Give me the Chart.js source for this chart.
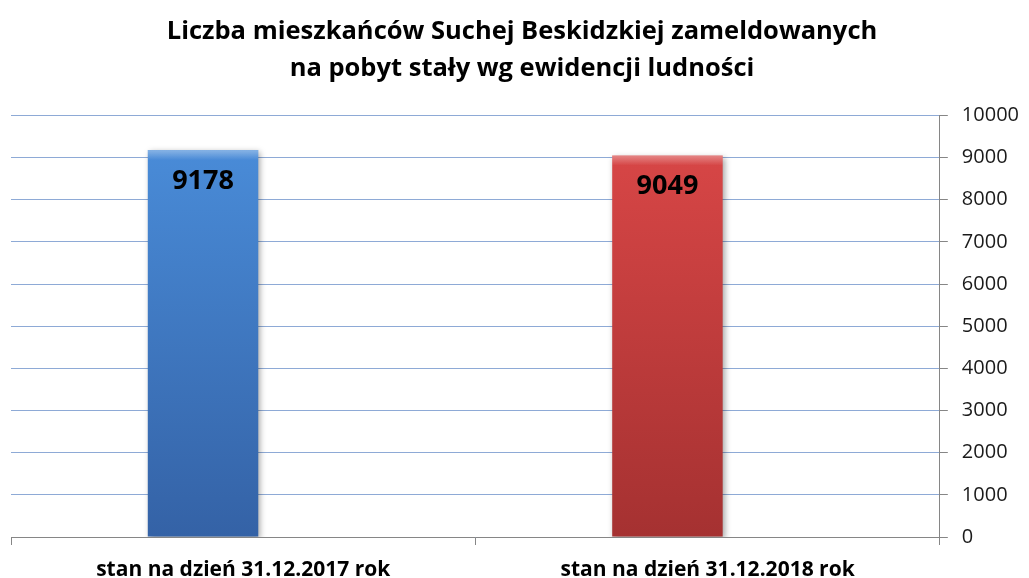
<!DOCTYPE html>
<html>
<head>
<meta charset="utf-8">
<script src="https://cdn.jsdelivr.net/npm/chart.js@4.4.1/dist/chart.umd.min.js"></script>
<style>
  html, body { margin: 0; padding: 0; background: #fff; }
  #wrap { width: 1029px; height: 578px; }
</style>
</head>
<body>
<div id="wrap"><canvas id="myChart" width="1029" height="578"></canvas></div>
<script>
var titleLines = ["Liczba mieszkańców Suchej Beskidzkiej zameldowanych", "na pobyt stały wg ewidencji ludności"];
var categories = ["stan na dzień 31.12.2017 rok", "stan na dzień 31.12.2018 rok"];
var residents = [9178, 9049];
var yMin = 0;
var yMax = 10000;
var yStep = 1000;

var topColors = ["#4b8fdc", "#dc4848"];
var bottomColors = ["#3462a6", "#a53131"];

function barFill(context) {
  var chart = context.chart;
  var area = chart.chartArea;
  if (!area) return topColors[context.dataIndex];
  var g = chart.ctx.createLinearGradient(0, area.top, 0, area.bottom);
  g.addColorStop(0, topColors[context.dataIndex]);
  g.addColorStop(1, bottomColors[context.dataIndex]);
  return g;
}

// shadow under the bars + value labels inside the top of each bar
var barExtras = {
  id: "barExtras",
  beforeDatasetDraw: function (chart, args) {
    if (args.index !== 0) return;
    var ctx = chart.ctx;
    ctx.save();
    ctx.shadowColor = "rgba(0,0,0,0.35)";
    ctx.shadowBlur = 6;
    ctx.shadowOffsetX = 2;
    ctx.shadowOffsetY = 2;
  },
  afterDatasetDraw: function (chart, args) {
    if (args.index !== 0) return;
    var ctx = chart.ctx;
    ctx.restore();
    // light top bevel
    var meta = chart.getDatasetMeta(0);
    meta.data.forEach(function (bar) {
      var left = bar.x - bar.width / 2;
      var g = ctx.createLinearGradient(0, bar.y, 0, bar.y + 10);
      g.addColorStop(0, "rgba(255,255,255,0.35)");
      g.addColorStop(1, "rgba(255,255,255,0)");
      ctx.fillStyle = g;
      ctx.fillRect(left, bar.y, bar.width, 10);
    });
  },
  afterDatasetsDraw: function (chart) {
    var ctx = chart.ctx;
    var meta = chart.getDatasetMeta(0);
    ctx.save();
    ctx.fillStyle = "#000";
    ctx.font = "bold 27px 'Open Sans', sans-serif";
    ctx.textAlign = "center";
    ctx.textBaseline = "middle";
    meta.data.forEach(function (bar, i) {
      ctx.fillText(String(residents[i]), bar.x, bar.y + 31);
    });
    ctx.restore();
  }
};

new Chart("myChart", {
  type: "bar",
  data: {
    labels: categories,
    datasets: [{
      data: residents,
      backgroundColor: barFill,
      borderWidth: 0
    }, {
      // empty partner series, like the spare slot in the original sheet
      data: [null, null],
      backgroundColor: "rgba(0,0,0,0)"
    }]
  },
  options: {
    responsive: false,
    animation: false,
    categoryPercentage: 0.346,
    barPercentage: 1.375,
    layout: { padding: { left: 11, right: -4, top: 0, bottom: 0 } },
    plugins: {
      legend: { display: false },
      tooltip: { enabled: false },
      title: {
        display: true,
        text: titleLines,
        color: "#000",
        font: { family: "'Open Sans', sans-serif", size: 25.5, weight: "bold", lineHeight: 1.42 },
        padding: { top: 14, bottom: 29 }
      }
    },
    scales: {
      x: {
        grid: {
          drawOnChartArea: false,
          drawTicks: true,
          tickLength: 8,
          tickColor: "#868686"
        },
        border: { color: "#868686" },
        ticks: {
          color: "#000",
          padding: 0,
          font: { family: "'Open Sans', sans-serif", size: 21, weight: "bold", lineHeight: "16.5px" },
          // blank first line pushes the label down towards the bottom edge
          callback: function (v, i) { return ["", categories[i]]; }
        }
      },
      y: {
        position: "right",
        min: yMin,
        max: yMax,
        ticks: {
          stepSize: yStep,
          color: "#1a1a1a",
          padding: 14,
          font: { family: "'Open Sans', sans-serif", size: 20 },
          callback: function (v) { return String(v); }
        },
        grid: {
          color: "#8eaad6",
          tickColor: "#868686",
          tickLength: 8
        },
        border: { color: "#868686" }
      }
    }
  },
  plugins: [barExtras]
});
</script>
</body>
</html>
